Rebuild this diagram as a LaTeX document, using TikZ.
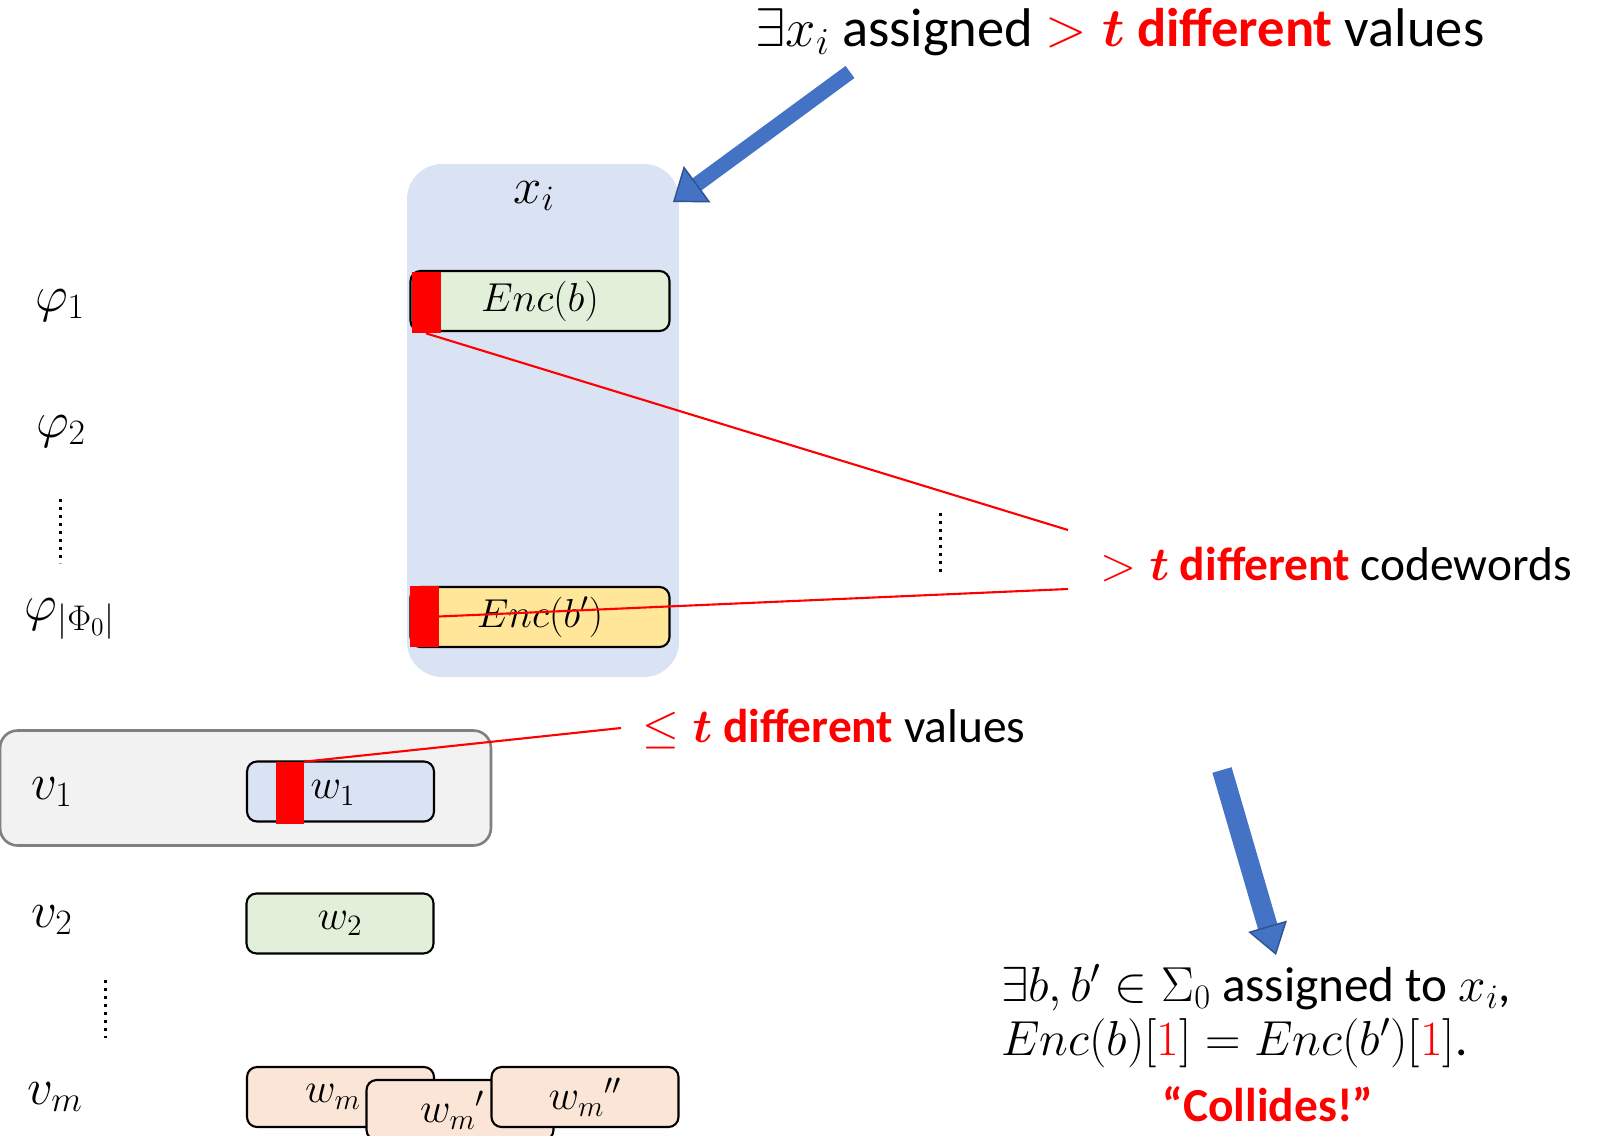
\RequirePackage{fix-cm}
\documentclass[tikz,border=0pt]{standalone}
\usepackage{amsmath}
\usepackage{fontspec}
\setmainfont{Carlito}
\usetikzlibrary{arrows.meta}

\definecolor{colbg}{RGB}{218,227,243}
\definecolor{encg}{RGB}{226,240,217}
\definecolor{ency}{RGB}{255,230,153}
\definecolor{peach}{RGB}{251,229,214}
\definecolor{vbg}{RGB}{242,242,242}
\definecolor{vline}{RGB}{128,128,128}
\definecolor{blueA}{RGB}{68,114,196}
\definecolor{blueD}{RGB}{47,82,143}

\tikzset{
  boxbase/.style={draw=black, line width=1.2pt, rounded corners=0.2cm, inner sep=0pt, minimum height=1.2cm},
  encbox/.style={boxbase, minimum width=5.18cm},
  wbox/.style={boxbase, minimum width=3.74cm, font=\fontsize{24}{28}\selectfont},
  redmark/.style={fill=red, inner sep=0pt, minimum width=0.58cm, minimum height=1.22cm},
  redline/.style={draw=red, line width=1.2pt},
  vdots/.style={line width=0.06cm, dash pattern=on 0.06cm off 0.1cm},
  bigarrow/.style={draw=blueA, -{Triangle[width=#1, length=0.6cm, line width=0.8pt, color=blueD, fill=blueA]}},
  lbl/.style={inner sep=0pt, font=\fontsize{29}{34}\selectfont},
  enctxt/.style={inner sep=0pt, font=\fontsize{23}{28}\selectfont},
  txt/.style={inner sep=0pt, font=\fontsize{27}{30}\selectfont}
}

\begin{document}
\begin{tikzpicture}[x=0.02cm, y=-0.02cm]
  \useasboundingbox (0,0) rectangle (1603,1136);

  % the column of x_i
  \node[fill=colbg, rounded corners=0.7cm, minimum width=5.44cm, minimum height=10.26cm] (col) at (543,420.5) {};
  \node[lbl] (xlab) at (534,196) {$x_i$};
  \node[encbox, fill=encg] (encb) at (540,301) {};
  \node[redmark] (rb1) at (426,302.5) {};
  \node[enctxt] at (encb) {$Enc(b)$};
  \node[encbox, fill=ency] (encc) at (540,617) {};
  \node[redmark] (rb2) at (424,616.5) {};
  \node[enctxt] at (encc) {$Enc(b')$};

  % constraints on the left
  \node[lbl] (p1) at (60,305) {$\varphi_1$};
  \node[lbl] (p2) at (61,431) {$\varphi_2$};
  \node[lbl] (pn) at (70,619) {$\varphi_{|\Phi_0|}$};
  \draw[vdots] (60,499) -- (60,563);
  \draw[vdots] (940,513) -- (940,575);

  % the variables
  \node[fill=vbg, draw=vline, line width=1.5pt, rounded corners=0.35cm, minimum width=9.82cm, minimum height=2.3cm] (vbox) at (245.5,788) {};
  \node[lbl] (v1) at (52,792) {$v_1$};
  \node[wbox, fill=colbg] (w1) at (340.5,791.5) {};
  \node[redmark, minimum width=0.56cm, minimum height=1.24cm] (rw) at (290,793) {};
  \node[inner sep=0pt, font=\fontsize{24}{28}\selectfont] at (333,793) {$w_1$};
  \node[lbl] (v2) at (52,920) {$v_2$};
  \node[wbox, fill=encg] (w2) at (340,923.5) {$w_2$};
  \draw[vdots] (105,980) -- (105,1038);
  \node[lbl] (vm) at (55,1097) {$v_m$};
  \node[wbox, fill=peach] (wm) at (340.5,1097) {\hspace*{-0.3cm}$w_m$};
  \node[wbox, fill=peach] (wmp) at (460,1110) {\hspace*{-0.3cm}$w_m{}'$};
  \node[wbox, fill=peach] (wmpp) at (585,1097) {$w_m{}''$};

  % texts on the right
  \node[txt, font=\fontsize{31}{34}\selectfont] (claim) at (1120,32) {$\exists x_i$ assigned \textcolor{red}{$>\boldsymbol{t}$ \textbf{different}} values};
  \node[txt] (code) at (1336,564) {\textcolor{red}{$>\boldsymbol{t}$ \textbf{different}} codewords};
  \node[txt] (few) at (834,729) {\textcolor{red}{$\le\boldsymbol{t}$ \textbf{different}} values};
  \node[txt, align=left, font=\fontsize{28}{31}\selectfont] (concl) at (1256,1016) {$\exists b, b' \in \Sigma_0$ assigned to $x_i$,\\$Enc(b)[\textcolor{red}{1}] = Enc(b')[\textcolor{red}{1}]$.};
  \node[txt, text=red, font=\fontsize{27}{30}\bfseries] (coll) at (1268,1104) {“Collides!”};

  \coordinate (c1) at (1068,530);
  \coordinate (c2) at (1068,589);
  \coordinate (c3) at (621,728);
  \coordinate (a1) at (850,72);
  \coordinate (a1e) at (673,202);
  \coordinate (a2) at (1222,770);
  \coordinate (a2e) at (1276,955);

  \draw[redline] (rb1.south) -- (c1);
  \draw[redline] (rb2.east) -- (c2);
  \draw[redline] (rw.north east) -- (c3);

  \draw[bigarrow=0.9cm, line width=0.3cm] (a1) -- (a1e);
  \draw[bigarrow=0.8cm, line width=0.4cm] (a2) -- (a2e);
\end{tikzpicture}
\end{document}
